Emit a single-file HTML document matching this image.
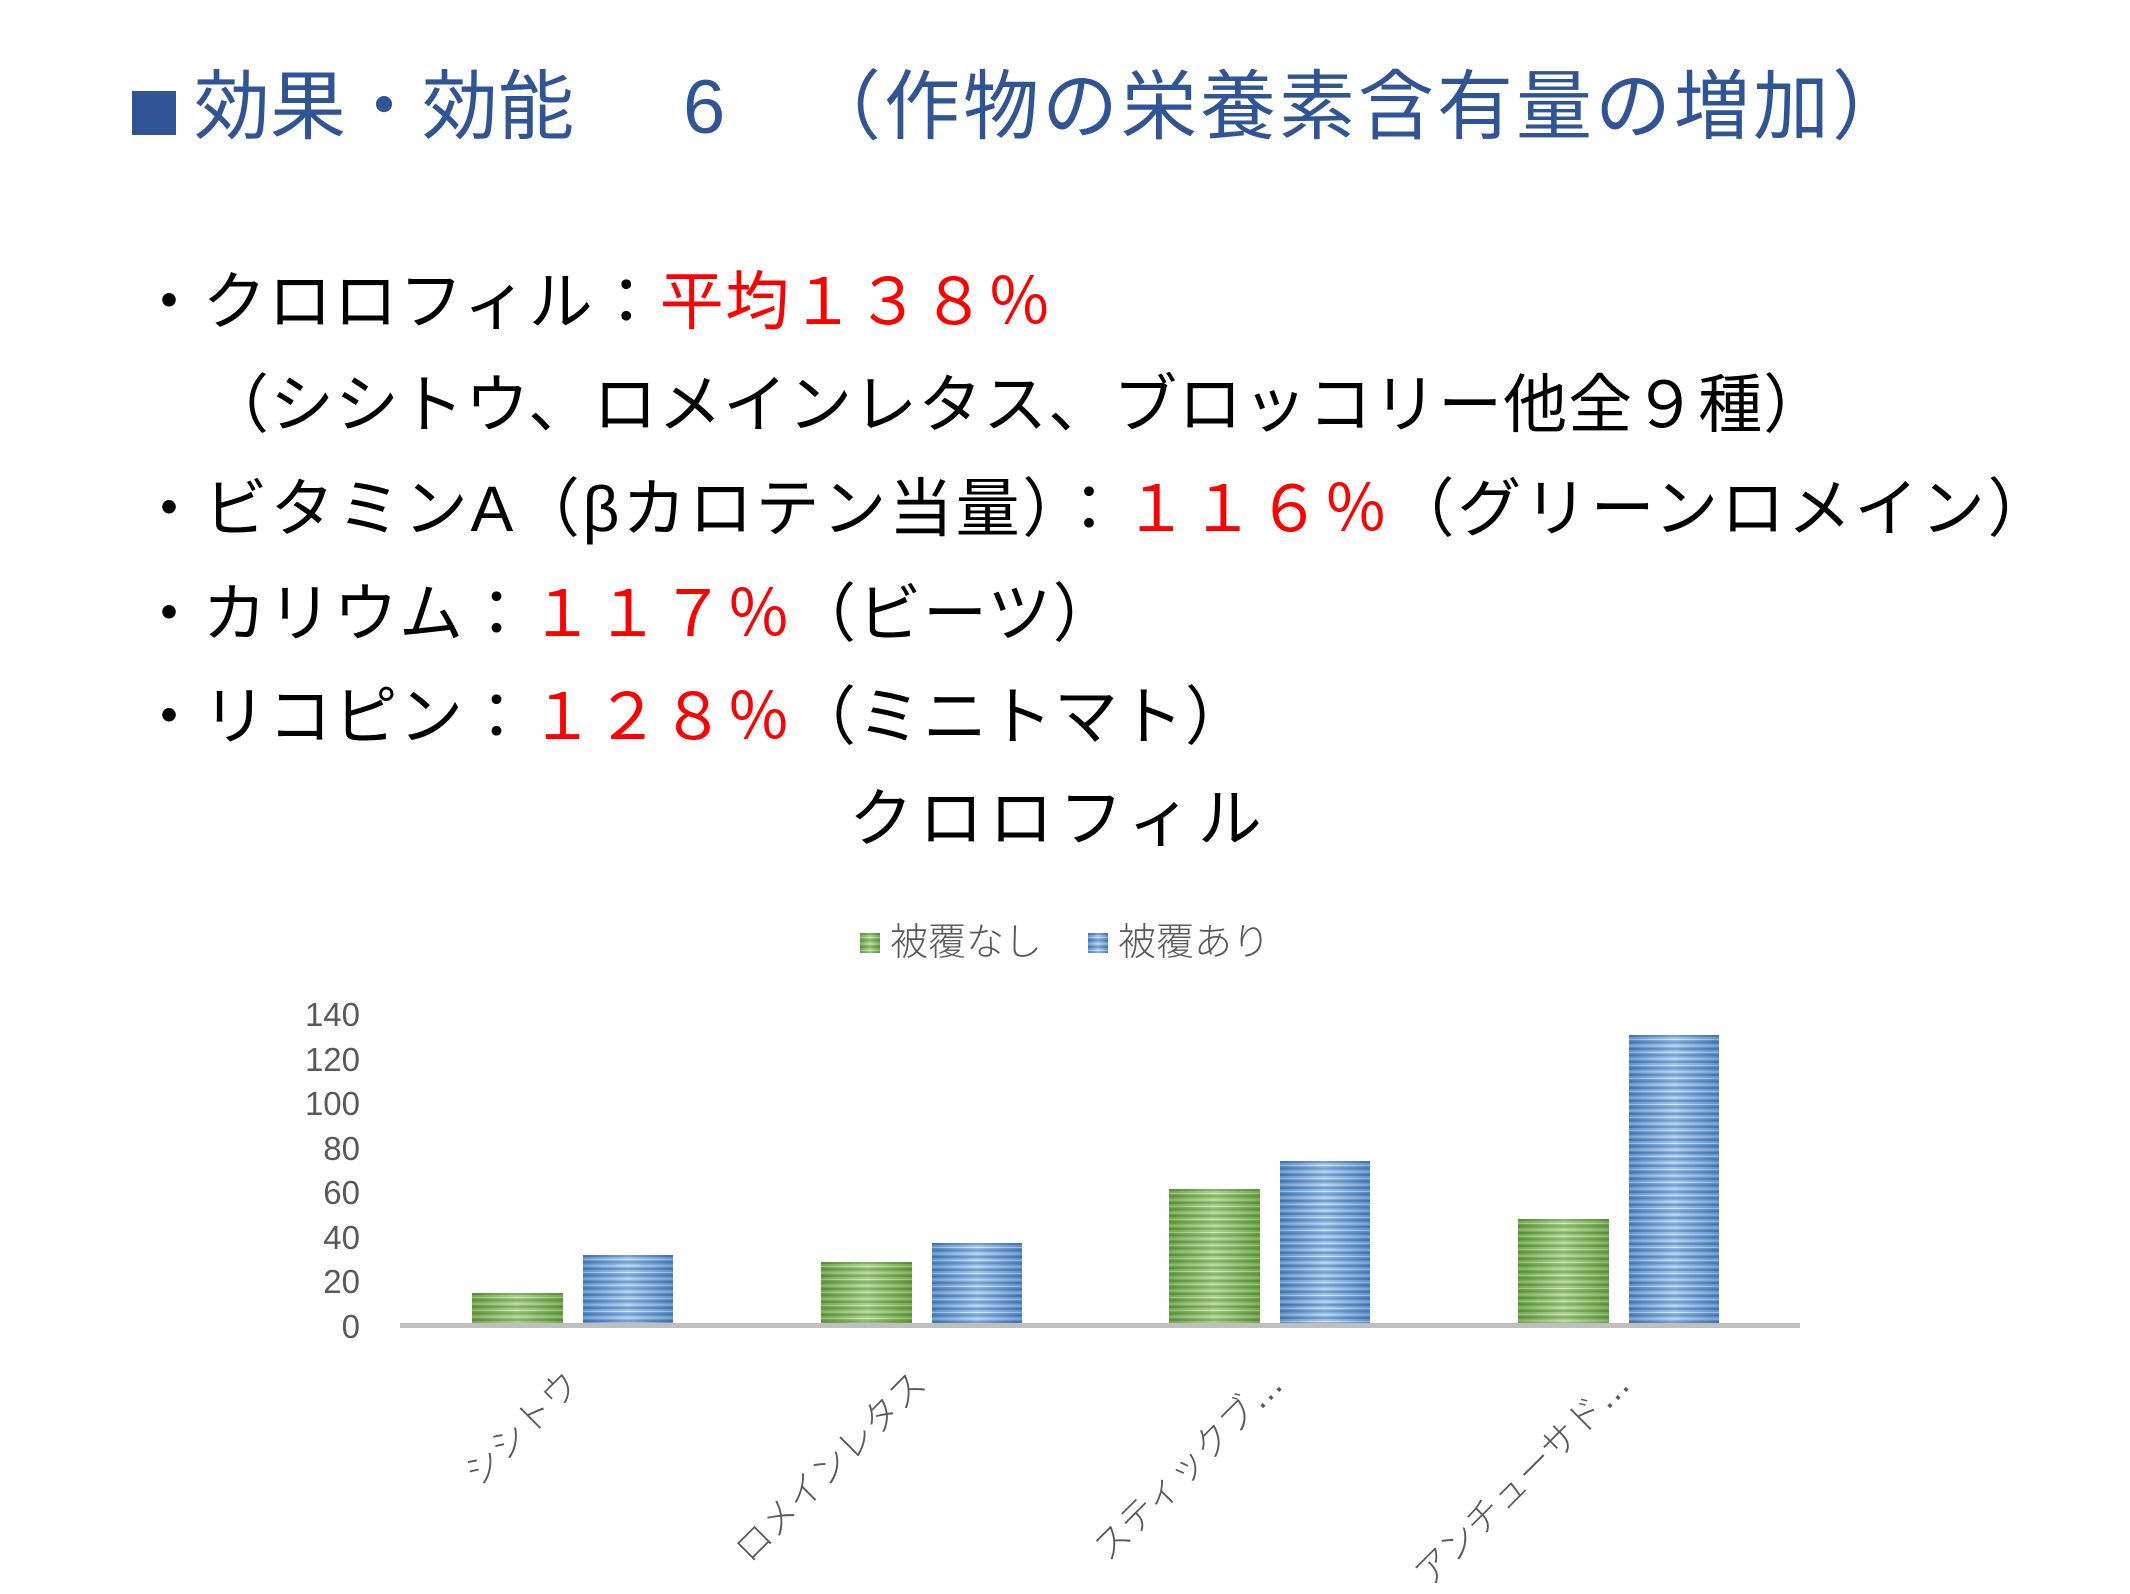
<!DOCTYPE html>
<html><head><meta charset="utf-8">
<style>
html,body{margin:0;padding:0;}
body{width:2130px;height:1594px;position:relative;background:#fff;overflow:hidden;font-family:"Liberation Sans","Noto Sans CJK JP",sans-serif;}
.a{position:absolute;white-space:nowrap;line-height:1;}
.t{color:#2f5597;font-size:76px;}
.b{color:#000;font-size:64px;}
.r{color:#ff0000;}
.y{position:absolute;right:1770px;font-size:33px;color:#595959;line-height:1;}
.bar{position:absolute;}
.g{background:linear-gradient(90deg,rgba(70,120,40,.35),rgba(255,255,255,.25) 50%,rgba(70,120,40,.35)),repeating-linear-gradient(180deg,#5f9a3c 0 2px,#8cc264 2px 4px,#c9e3b4 4px 5px,#7ab353 5px 6.5px);}
.bl{background:linear-gradient(90deg,rgba(40,90,150,.35),rgba(255,255,255,.25) 50%,rgba(40,90,150,.35)),repeating-linear-gradient(180deg,#4a80bd 0 2px,#7fb2e6 2px 4px,#cfe2f5 4px 5px,#68a0da 5px 6.5px);}
.xl{position:absolute;font-size:36px;color:#595959;transform-origin:100% 0;transform:rotate(-45deg);font-weight:300;line-height:1;white-space:nowrap;}
</style></head><body>
<div class="a" style="left:132px;top:91px;width:44px;height:44px;background:#2f5597;"></div>
<div class="a t" style="left:194px;top:70px;">効果・効能</div>
<div class="a t" style="left:683px;top:70px;">6</div>
<div class="a t" style="left:805px;top:70px;letter-spacing:3px;">（作物の栄養素含有量の増加）</div>

<div class="a b" style="left:137px;top:270px;letter-spacing:1.5px;">・クロロフィル：<span class="r">平均１３８％</span></div>
<div class="a b" style="left:205px;top:373px;letter-spacing:1px;">（シシトウ、ロメインレタス、ブロッコリー他全９種）</div>
<div class="a b" style="left:137px;top:477px;letter-spacing:2.7px;">・ビタミンA（βカロテン当量）：<span class="r">１１６％</span>（グリーンロメイン）</div>
<div class="a b" style="left:137px;top:582px;letter-spacing:1.5px;">・カリウム：<span class="r">１１７％</span>（ビーツ）</div>
<div class="a b" style="left:137px;top:685px;letter-spacing:1.5px;">・リコピン：<span class="r">１２８％</span>（ミニトマト）</div>
<div class="a b" style="left:849px;top:787px;letter-spacing:6px;">クロロフィル</div>

<div class="a" style="left:860px;top:933px;width:20px;height:20px;" ><div class="bar g" style="left:0;top:0;width:20px;height:20px;"></div></div>
<div class="a" style="left:890px;top:924px;font-size:38px;color:#595959;font-weight:300;">被覆なし</div>
<div class="a" style="left:1088px;top:933px;width:20px;height:20px;"><div class="bar bl" style="left:0;top:0;width:20px;height:20px;"></div></div>
<div class="a" style="left:1118px;top:924px;font-size:38px;color:#595959;font-weight:300;">被覆あり</div>

<div class="y" style="top:998px;">140</div>
<div class="y" style="top:1043px;">120</div>
<div class="y" style="top:1087px;">100</div>
<div class="y" style="top:1132px;">80</div>
<div class="y" style="top:1176px;">60</div>
<div class="y" style="top:1221px;">40</div>
<div class="y" style="top:1265px;">20</div>
<div class="y" style="top:1310px;">0</div>

<div class="bar g" style="left:472px;top:1293px;width:91px;height:30px;"></div>
<div class="bar bl" style="left:583px;top:1255px;width:90px;height:68px;"></div>
<div class="bar g" style="left:821px;top:1262px;width:91px;height:61px;"></div>
<div class="bar bl" style="left:932px;top:1243px;width:90px;height:80px;"></div>
<div class="bar g" style="left:1169px;top:1189px;width:91px;height:134px;"></div>
<div class="bar bl" style="left:1280px;top:1161px;width:90px;height:162px;"></div>
<div class="bar g" style="left:1518px;top:1219px;width:91px;height:104px;"></div>
<div class="bar bl" style="left:1629px;top:1035px;width:90px;height:288px;"></div>
<div class="bar" style="left:400px;top:1323px;width:1400px;height:5px;background:#bfbfbf;"></div>

<div class="xl" style="right:1570px;top:1365px;">シシトウ</div>
<div class="xl" style="right:1223px;top:1365px;">ロメインレタス</div>
<div class="xl" style="right:866px;top:1365px;">スティックブ…</div>
<div class="xl" style="right:519px;top:1365px;">アンチューサド…</div>
</body></html>
